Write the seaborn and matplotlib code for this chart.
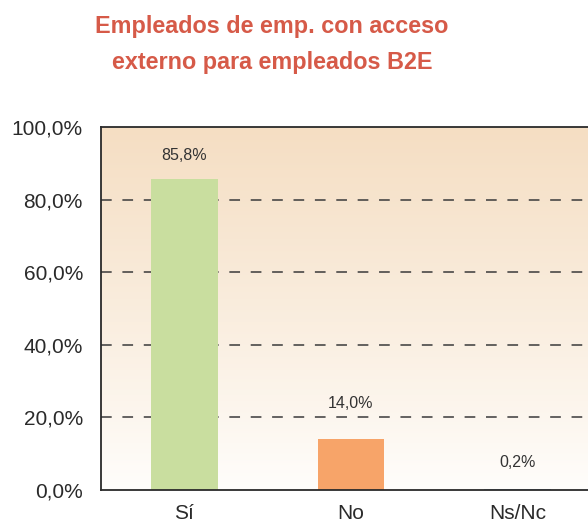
import numpy as np
import pandas as pd
import matplotlib
matplotlib.use('Agg')
import matplotlib.pyplot as plt
import seaborn as sns

# Data
categories = ['Sí', 'No', 'Ns/Nc']
values = [85.8, 14.0, 0.2]
value_labels = ['85,8%', '14,0%', '0,2%']
bar_colors = ['#c9de9f', '#f7a469', '#9bb7d4']
y_ticks = [0, 20, 40, 60, 80, 100]
y_tick_labels = ['0,0%', '20,0%', '40,0%', '60,0%', '80,0%', '100,0%']

sns.set_style('white')
plt.rcParams['font.family'] = ['Liberation Sans', 'DejaVu Sans']

df = pd.DataFrame({'cat': categories, 'val': values})

fig = plt.figure(figsize=(5.88, 5.2), dpi=100)
ax = fig.add_axes([101 / 588, 1 - 490 / 520, 500 / 588, 363 / 520])

# gradient background
grad = np.linspace(0, 1, 256).reshape(-1, 1)
top = np.array([245, 222, 195]) / 255
bottom = np.array([255, 254, 252]) / 255
img = bottom + (top - bottom) * grad[..., None] ** 0.9
ax.imshow(img, extent=[-0.5, 2.5, 0, 100], origin='lower', aspect='auto', zorder=0)

for t in y_ticks[1:-1]:
    ax.axhline(t, color='#3a3a3a', lw=1.1, linestyle=(0, (7, 7)), zorder=1)

sns.barplot(data=df, x='cat', y='val', hue='cat', palette=bar_colors,
            width=0.4, legend=False, ax=ax, zorder=2, saturation=1, linewidth=0)

offsets = [11, 20, 14]
for i, (v, lab) in enumerate(zip(values, value_labels)):
    ax.annotate(lab, (i, v), xytext=(0, offsets[i]), textcoords='offset points',
                ha='center', va='bottom', fontsize=11.5, color='#333333')

ax.set_xlim(-0.5, 2.5)
ax.set_ylim(0, 100)
ax.set_yticks(y_ticks)
ax.set_yticklabels(y_tick_labels, fontsize=15, color='#2a2a2a')
ax.set_xticks(range(len(categories)))
ax.set_xticklabels(categories, fontsize=15, color='#2a2a2a')
ax.set_xticks([0.5, 1.5], minor=True)
ax.tick_params(axis='x', which='major', length=0, pad=10)
ax.tick_params(axis='x', which='minor', length=5, width=1.2, direction='out', color='#333333')
ax.tick_params(axis='y', length=5, width=1.2, direction='out', color='#333333', pad=8)
ax.set_xlabel('')
ax.set_ylabel('')
for s in ['left', 'bottom', 'top', 'right']:
    ax.spines[s].set_color('#2a2a2a')
    ax.spines[s].set_linewidth(1.3)

fig.text(272 / 588, 1 - 26 / 520, 'Empleados de emp. con acceso', ha='center', va='center',
         fontsize=16.8, fontweight='bold', color='#d65a48')
fig.text(272 / 588, 1 - 63 / 520, 'externo para empleados B2E', ha='center', va='center',
         fontsize=16.8, fontweight='bold', color='#d65a48')

fig.savefig('out.png', dpi=100)
